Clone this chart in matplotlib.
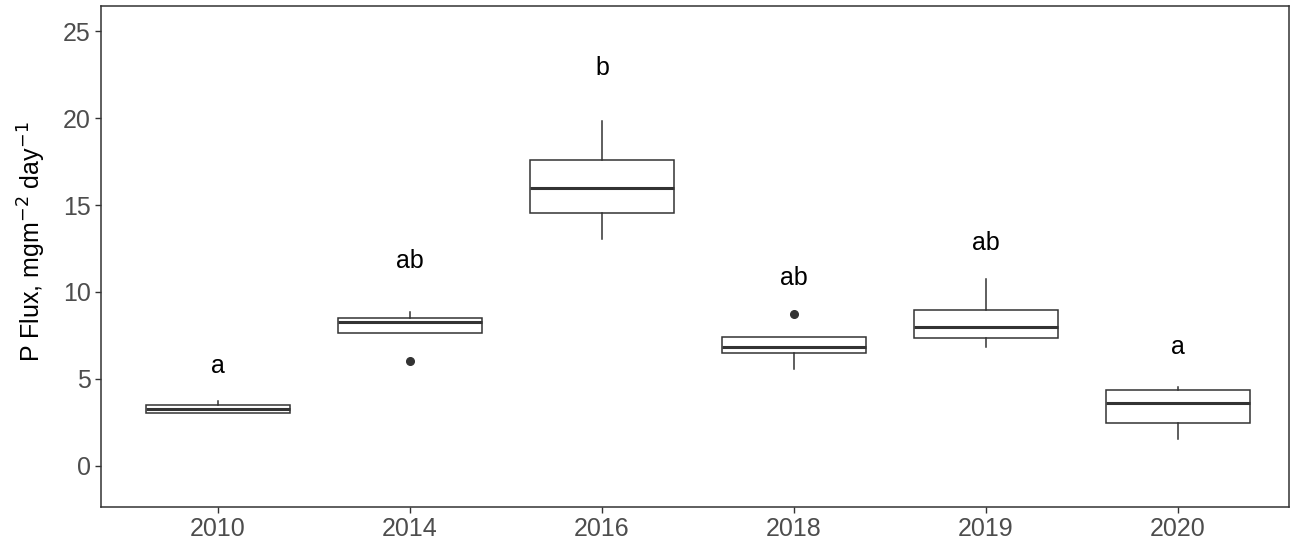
import matplotlib
matplotlib.use("Agg")
import matplotlib.pyplot as plt

years = ["2010", "2014", "2016", "2018", "2019", "2020"]
q1 = [3.05, 7.64, 14.56, 6.48, 7.37, 2.49]
med = [3.28, 8.28, 16.0, 6.82, 8.0, 3.6]
q3 = [3.5, 8.5, 17.57, 7.4, 8.98, 4.39]
wlo = [3.05, 7.64, 13.03, 5.6, 6.84, 1.57]
whi = [3.75, 8.85, 19.85, 7.4, 10.76, 4.56]
outliers = [[], [6.05], [], [8.72], [], []]
letters = ["a", "ab", "b", "ab", "ab", "a"]
letter_y = [5.75, 11.8, 22.9, 10.8, 12.8, 6.85]

plt.rcParams['font.family'] = ['Liberation Sans', 'DejaVu Sans']

fig = plt.figure(figsize=(12.91, 5.46), dpi=100)
ax = fig.add_axes([101/1291, (546-507)/546, (1289-101)/1291, (507-6)/546])

stats = []
for i in range(len(years)):
    stats.append(dict(med=med[i], q1=q1[i], q3=q3[i], whislo=wlo[i], whishi=whi[i],
                      fliers=outliers[i], label=years[i]))

pos = list(range(len(years)))
ax.bxp(stats, positions=pos, widths=0.75, showfliers=True, patch_artist=True,
       boxprops=dict(facecolor="white", edgecolor="#333333", linewidth=1.1),
       medianprops=dict(color="#333333", linewidth=2.2),
       whiskerprops=dict(color="#333333", linewidth=1.1),
       capprops=dict(linewidth=0),
       flierprops=dict(marker="o", markerfacecolor="#333333", markeredgecolor="#333333",
                       markersize=5.5))

for i, (t, y) in enumerate(zip(letters, letter_y)):
    ax.text(pos[i], y, t, ha="center", va="center", fontsize=18, color="black")

ax.set_xlim(-0.61, 5.58)
ax.set_ylim(-2.36, 26.44)
ax.set_yticks([0, 5, 10, 15, 20, 25])
ax.set_xticks(pos)
ax.set_xticklabels(years)
ax.tick_params(axis="both", labelsize=18, labelcolor="#4D4D4D", color="#333333",
               length=4, width=1.0)
ax.set_ylabel("P Flux, mgm$^{-2}$ day$^{-1}$", fontsize=18, color="black")
ax.yaxis.set_label_coords(-0.045, 0.53)
for s in ax.spines.values():
    s.set_color("#333333")
    s.set_linewidth(1.1)

fig.savefig("out.png", dpi=100, facecolor="white")
